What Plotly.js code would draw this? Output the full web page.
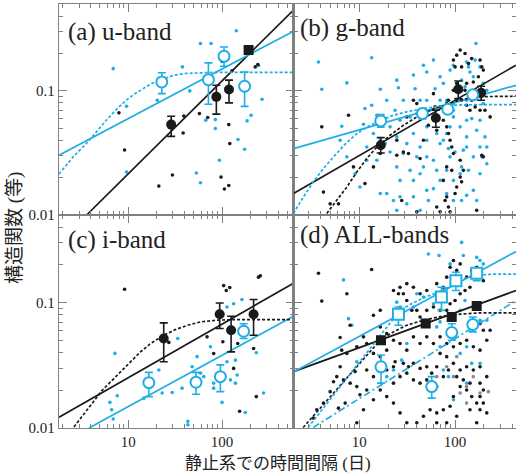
<!DOCTYPE html>
<html><head><meta charset="utf-8">
<script src="https://cdn.plot.ly/plotly-3.0.1.min.js"></script>
<style>html,body{margin:0;padding:0;background:#fff}#g{width:516px;height:476px}</style>
</head><body><div id="g"></div>
<script>
// ---------- axis / labels ----------
const xTickVals = [10, 100];
const xTickText = ['10', '100'];
const yTickVals = [0.01, 0.1];
const yTickText = ['0.01', '0.1'];
const xMinorVals = [2,3,4,5,6,7,8,9,20,30,40,50,60,70,80,90,200,300,400,500];
const yMinorVals = [0.02,0.03,0.04,0.05,0.06,0.07,0.08,0.09,0.2,0.3,0.4,0.5];
const panelLabels = ['(a) u-band', '(b) g-band', '(c) i-band', '(d) ALL-bands'];
const xTitle = '静止系での時間間隔 (日)';
const yTitle = '構造関数 (等)';

// ---------- panel (a) u-band ----------
const aDotBlkX = [7.96,9.14,21.2,29.6,39.1,38.5,57.4,70.4,97.6,106,118,118,121,100,128,166,226,241];
const aDotBlkY = [0.0665,0.0334,0.0171,0.021,0.0628,0.0458,0.0656,0.061,0.0202,0.0162,0.0173,0.0535,0.0376,0.173,0.145,0.1026,0.156,0.163];
const aDotCyX = [6.92,9.6,9.6,20.4,37.8,45.3,58.9,76.4,53.3,58.9,67,84.9,84.9,93.7,142,148,174,185,204,245,267];
const aDotCyY = [0.151,0.0752,0.0222,0.0841,0.156,0.1,0.241,0.241,0.0218,0.0182,0.058,0.0587,0.0497,0.0276,0.305,0.0406,0.0339,0.0573,0.0637,0.16,0.0857];
const aBlkCircX = [28.7, 87, 118.6];
const aBlkCircY = [0.0535, 0.0895, 0.1026];
const aBlkCircHi = [0.0625, 0.111, 0.122];
const aBlkCircLo = [0.043, 0.065, 0.080];
const aBlkSqX = [192];
const aBlkSqY = [0.213];
const aBlkSqHi = [0.226];
const aBlkSqLo = [0.200];
const aCyCircX = [22.8, 71.6, 105, 174];
const aCyCircY = [0.118, 0.123, 0.19, 0.109];
const aCyCircHi = [0.14, 0.168, 0.226, 0.142];
const aCyCircLo = [0.095, 0.078, 0.158, 0.075];
const aFitBlkX = [3.6, 578];
const aFitBlkY = [0.01, 0.448];
const aFitCyX = [1.83, 578];
const aFitCyY = [0.0303, 0.303];
const aCurveCyX = [1.83, 2.6, 3.72, 4.7, 5.84, 7.5, 9.52, 11.8, 14.3, 17.5, 21.5, 26, 31.1, 40, 55, 80, 130, 578];
const aCurveCyY = [0.0214, 0.0295, 0.0389, 0.048, 0.058, 0.071, 0.0841, 0.095, 0.1045, 0.114, 0.122, 0.129, 0.134, 0.138, 0.140, 0.141, 0.141, 0.141];

// ---------- panel (b) g-band ----------
const bDotCyX = [3.77,4.08,7.45,13.5,6.59,6.34,16.6,24.7,25.7,19.4,
 23.7,28.9,36.8,38.3,46.8,50.7,59.5,61.9,69.8,75.5,
 88.7,96.1,117,132,138,143,162,165,182,197,
 214,155,127,54.9,69.8,81.8,96.1,108,132,175,
 197,96.1,113,149,182,205,214,190,214,132,
 155,138,117,113,96.1,100,75.5,64.4,50.7,36.8,
 31.4,28.9,39.9,50.7,59.5,69.8,85.3,43.2,36.8,24.7,
 26.7,21.0,16.6,14.1,12.0,9.08,7.45,19.4,22.8,16.6,
 31.4,36.8,50.7,59.5,69.8,81.8,96.1,117,132,155,
 24.7,43.2,52.7,26.7,34.0,39.9,21.0,13.5,11.5,15.3,
 11.1,43.2,50.7,59.5,88.7,81.8,132,50.7,43.2,34.0,
 46.8,64.4,81.8,122,182,182,168,88.7,168,132,
 96.1,24.7,18.7,15.3,12.0,10.2,26.7];
const bDotCyY = [0.171,0.103,0.116,0.185,0.0519,0.040,0.103,0.122,0.106,0.0841,
 0.0699,0.0841,0.134,0.104,0.161,0.142,0.177,0.104,0.130,0.115,
 0.147,0.161,0.122,0.171,0.156,0.142,0.177,0.241,0.156,0.115,
 0.101,0.130,0.108,0.0699,0.0841,0.0841,0.079,0.0841,0.0841,0.0895,
 0.079,0.0617,0.0513,0.0598,0.058,0.0426,0.0353,0.0294,0.0259,0.0353,
 0.0294,0.0229,0.0244,0.0215,0.019,0.0322,0.040,0.0453,0.0513,0.0453,
 0.0376,0.0313,0.0294,0.0294,0.0276,0.0376,0.0343,0.0215,0.019,0.0244,
 0.019,0.0322,0.040,0.0453,0.0353,0.0215,0.0294,0.0149,0.0131,0.0149,
 0.0123,0.014,0.0158,0.0163,0.019,0.0149,0.0131,0.0131,0.0144,0.0158,
 0.0109,0.0109,0.0131,0.058,0.0617,0.0656,0.0513,0.0766,0.0721,0.0637,
 0.0538,0.0841,0.0841,0.0598,0.0513,0.0453,0.0426,0.040,0.0353,0.0229,
 0.0244,0.0229,0.0229,0.0333,0.0353,0.0215,0.0131,0.0294,0.0482,0.058,
 0.0699,0.0426,0.0376,0.0276,0.0276,0.0168,0.014];
const bDotBlkX = [4.08,7.75,4.25,6.09,16.6,24.7,28.9,36.8,39.9,32.7,
 43.2,46.8,52.7,61.9,69.8,81.8,85.3,75.5,81.8,85.3,
 88.7,92.3,96.1,96.1,104,113,100,117,127,138,
 149,182,190,197,175,155,132,127,132,143,
 162,182,205,232,190,197,113,122,113,117,
 104,81.8,78.7,64.4,69.8,85.3,88.7,39.9,27.8,11.5,
 14.1,8.73,4.99,168,59.5,31.4,24.7,96.1,104,117,
 149,168,64.4,75.5,81.8,92.3,100];
const bDotBlkY = [0.0513,0.0637,0.0153,0.0123,0.0313,0.0303,0.0322,0.0841,0.079,0.0313,
 0.0285,0.040,0.0528,0.0743,0.0743,0.079,0.0841,0.058,0.0513,0.0453,
 0.040,0.0353,0.0313,0.177,0.194,0.213,0.156,0.156,0.200,0.166,
 0.182,0.177,0.156,0.147,0.130,0.118,0.115,0.101,0.0766,0.0699,
 0.0743,0.0699,0.0699,0.0617,0.0303,0.0294,0.0276,0.0229,0.0202,0.0185,
 0.0168,0.014,0.0131,0.0116,0.0106,0.0116,0.0106,0.0106,0.0131,0.0179,
 0.0244,0.0244,0.0123,0.0109,0.095,0.0617,0.040,0.101,0.115,0.0841,
 0.0841,0.0895,0.0482,0.019,0.0244,0.0229,0.0149];
const bBlkCircX = [16.8, 63, 108, 187];
const bBlkCircY = [0.0365, 0.0605, 0.103, 0.0964];
const bBlkCircHi = [0.042, 0.070, 0.120, 0.109];
const bBlkCircLo = [0.0316, 0.051, 0.0867, 0.084];
const bCyCircX = [16.8, 45.7, 84, 153];
const bCyCircY = [0.0573, 0.0656, 0.0711, 0.0929];
const bCyCircHi = [0.0645, 0.0721, 0.0766, 0.100];
const bCyCircLo = [0.051, 0.0598, 0.0656, 0.0857];
const bFitBlkX = [2.07, 431];
const bFitBlkY = [0.0149, 0.161];
const bFitCyX = [2.07, 431];
const bFitCyY = [0.0343, 0.111];
const bCurveBlkX = [4.6, 5.85, 7.45, 9.46, 12.0, 15.3, 21.0, 28.9, 39.9, 54.9, 75.5, 104, 143, 214, 431];
const bCurveBlkY = [0.0103, 0.0131, 0.0168, 0.0222, 0.0285, 0.0353, 0.0439, 0.0528, 0.0617, 0.0699, 0.0766, 0.083, 0.0879, 0.090, 0.0906];
const bCurveCyX = [2.07, 2.63, 3.34, 4.25, 5.41, 7.15, 9.46, 12.5, 16.6, 22.8, 31.4, 46.8, 69.8, 113, 214, 431];
const bCurveCyY = [0.0103, 0.014, 0.0185, 0.0237, 0.0294, 0.0372, 0.0453, 0.0519, 0.0573, 0.0637, 0.0678, 0.0721, 0.0752, 0.0771, 0.0776, 0.0776];

// ---------- panel (c) i-band ----------
const cDotBlkX = [9.14,104,111,121,245,256,69.2,81.5,133,217,232,154,27.1,102,147];
const cDotBlkY = [0.128,0.137,0.125,0.132,0.160,0.164,0.0534,0.0393,0.0299,0.0431,0.0178,0.0136,0.0482,0.0488,0.0473];
const cDotCyX = [7.21,6.38,6.65,6.92,7.64,14.7,21.2,23.0,29.4,33.7,37.5,48.0,54.2,43.2,43.2,58.9,63.9,75.2,81.5,81.5,100,113,133,139,145,139,123,163,177,232,277,113];
const cDotCyY = [0.0394,0.016,0.014,0.0118,0.0181,0.0173,0.029,0.019,0.0192,0.0518,0.0208,0.0308,0.0371,0.0113,0.0106,0.0274,0.0257,0.0445,0.0228,0.0208,0.016,0.0924,0.0982,0.0348,0.0265,0.0228,0.0242,0.106,0.0133,0.0399,0.019,0.0338];
const cBlkCircX = [23.9, 94.4, 125, 217];
const cBlkCircY = [0.0518, 0.0808, 0.0602, 0.0808];
const cBlkCircHi = [0.069, 0.0994, 0.078, 0.106];
const cBlkCircLo = [0.0338, 0.0622, 0.0405, 0.055];
const cCyCircX = [16.6, 52.8, 96, 170];
const cCyCircY = [0.023, 0.0232, 0.0257, 0.0592];
const cCyCircHi = [0.0278, 0.0278, 0.0319, 0.068];
const cCyCircLo = [0.0178, 0.0186, 0.0195, 0.0518];
const cFitBlkX = [1.83, 578];
const cFitBlkY = [0.0122, 0.143];
const cFitCyX = [3.82, 578];
const cFitCyY = [0.01, 0.078];
const cCurveBlkX = [2.64, 3.7, 5.28, 7.03, 9.75, 13.5, 17.3, 23.9, 31.8, 42.5, 58.7, 90, 150, 578];
const cCurveBlkY = [0.0102, 0.0142, 0.02, 0.0248, 0.0317, 0.0405, 0.0472, 0.055, 0.061, 0.0659, 0.0702, 0.0726, 0.0733, 0.0733];

// ---------- panel (d) ALL-bands ----------
const dDotBlkX = [3.77,13.5,4.08,7.45,8.06,6.34,6.59,5.41,4.99,4.25,
 3.62,3.34,6.09,7.15,9.08,9.46,10.2,12.0,14.1,16.6,
 19.4,22.8,23.7,28.9,32.7,36.8,43.2,50.7,57.1,64.4,
 69.8,81.8,96.1,113,132,155,182,182,197,214,
 182,143,122,113,96.1,88.7,75.5,64.4,54.9,46.8,
 39.9,31.4,26.7,22.8,19.4,16.6,14.1,11.1,9.46,14.1,
 16.6,22.8,25.7,28.9,31.4,35.4,39.9,43.2,50.7,59.5,
 69.8,81.8,88.7,100,113,127,143,132,149,168,
 182,197,113,104,96.1,88.7,81.8,75.5,64.4,50.7,
 43.2,36.8,31.4,26.7,16.6,19.4,22.8,26.7,31.4,36.8,
 43.2,50.7,59.5,69.8,81.8,96.1,113,132,155,182,
 214,197,182,232,19.4,16.6,14.1,12.0,11.1,9.46,
 7.45,6.34,5.85,6.87,8.06,12.0,22.8,26.7,31.4,36.8,
 43.2,50.7,64.4,75.5,85.3,104,132,149,168,182,
 197,214,104,81.8,64.4,143,168];
const dDotBlkY = [0.172,0.184,0.103,0.118,0.0661,0.0528,0.0418,0.0234,0.0195,0.0158,
 0.014,0.012,0.0144,0.0158,0.0282,0.0214,0.0184,0.029,0.0257,0.0328,
 0.029,0.0308,0.0338,0.0328,0.0308,0.0328,0.0299,0.0308,0.0274,0.0308,
 0.0394,0.0371,0.0328,0.029,0.0308,0.029,0.0308,0.0228,0.0201,0.0257,
 0.0178,0.0228,0.0242,0.0214,0.0178,0.0149,0.014,0.0132,0.014,0.0124,
 0.011,0.011,0.0132,0.0158,0.0178,0.0201,0.0168,0.014,0.011,0.0793,
 0.0869,0.125,0.118,0.118,0.104,0.0869,0.0869,0.0769,0.0869,0.0924,
 0.0869,0.0869,0.0982,0.104,0.118,0.125,0.133,0.160,0.181,0.192,
 0.160,0.150,0.204,0.181,0.217,0.192,0.160,0.133,0.142,0.125,
 0.118,0.133,0.142,0.133,0.0641,0.0567,0.0502,0.0473,0.0418,0.0534,
 0.0473,0.0534,0.0473,0.0534,0.0473,0.0445,0.0473,0.0502,0.0445,0.0418,
 0.0502,0.0603,0.0681,0.0603,0.0418,0.0371,0.0394,0.0473,0.0534,0.0445,
 0.0394,0.0308,0.0257,0.0242,0.0228,0.0201,0.0228,0.0257,0.0274,0.0242,
 0.0228,0.0242,0.0214,0.0257,0.029,0.0257,0.0201,0.0178,0.0158,0.014,
 0.0158,0.0132,0.0124,0.011,0.011,0.014,0.011];
const dDotGrayX = [113,96.1,132,182,155,222,64.4,81.8,104,132];
const dDotGrayY = [0.019,0.0257,0.0214,0.019,0.0257,0.0195,0.0257,0.0308,0.0371,0.0158];
const dDotCyX = [6.87,7.75,8.39,9.46,24.7,26.7,52.7,68.1,117,122,
 96.1,88.7,182,168,81.8,59.5,39.9,31.4,27.8,22.8,
 19.4,69.8,113,132,149,75.5,85.3,96.1,113,127,
 69.8,64.4,36.8,46.8,182,214,132,182,197];
const dDotCyY = [0.152,0.0746,0.0661,0.0338,0.101,0.0924,0.245,0.238,0.303,0.238,
 0.217,0.204,0.217,0.230,0.129,0.0982,0.118,0.0473,0.0348,0.029,
 0.0257,0.0445,0.0394,0.0445,0.0328,0.029,0.0257,0.0168,0.0869,0.104,
 0.0703,0.0641,0.0924,0.111,0.0724,0.0724,0.0228,0.0328,0.204];
const dBlkSqX = [16.9, 49.4, 92.3, 168];
const dBlkSqY = [0.0502, 0.0681, 0.0769, 0.094];
const dBlkSqHi = [0.053, 0.071, 0.081, 0.099];
const dBlkSqLo = [0.047, 0.065, 0.073, 0.089];
const dCySqX = [25.7, 72.1, 102, 168];
const dCySqY = [0.0808, 0.111, 0.150, 0.172];
const dCySqHi = [0.0924, 0.133, 0.175, 0.186];
const dCySqLo = [0.066, 0.0869, 0.125, 0.150];
const dCyCircX = [16.9, 57.1, 92.3, 153];
const dCyCircY = [0.0308, 0.0214, 0.0578, 0.0669];
const dCyCircHi = [0.0382, 0.0257, 0.068, 0.0769];
const dCyCircLo = [0.0228, 0.0173, 0.0502, 0.0585];
const dFitBlkX = [2.07, 431];
const dFitBlkY = [0.0282, 0.125];
const dFitCyX = [2.07, 431];
const dFitCyY = [0.028, 0.256];
const dFitCyDotX = [3.32, 431];
const dFitCyDotY = [0.0101, 0.104];
const dCurveBlkX = [2.61, 4.99, 9.46, 16.6, 22.8, 31.4, 46.5, 69.8, 113, 182, 431];
const dCurveBlkY = [0.0101, 0.0177, 0.0308, 0.0502, 0.0585, 0.0661, 0.0724, 0.0775, 0.081, 0.083, 0.083];
const dCurveCyX = [2.94, 5.85, 12.0, 26.7, 36.8, 50.7, 72.1, 102, 132, 168, 251, 431];
const dCurveCyY = [0.0101, 0.0197, 0.0399, 0.0869, 0.1, 0.112, 0.124, 0.143, 0.158, 0.166, 0.169, 0.169];

// ---------- styles ----------
const CY = '#1eaee6';
const BK = '#1a1a1a';
const AX = '#808080';
const FONT = 'Liberation Serif, Times New Roman, serif';
const JFONT = 'Liberation Serif, Noto Sans CJK JP, serif';

const traces = [];
function dots(x, y, color, xa, ya) {
  traces.push({x, y, xaxis: xa, yaxis: ya, type: 'scatter', mode: 'markers',
    marker: {size: 3.6, color: color}, hoverinfo: 'skip'});
}
function line(x, y, color, dash, xa, ya) {
  traces.push({x, y, xaxis: xa, yaxis: ya, type: 'scatter', mode: 'lines',
    line: {color: color, width: 1.7, dash: dash}, hoverinfo: 'skip'});
}
function marks(x, y, hi, lo, color, symbol, open, xa, ya) {
  traces.push({x, y, xaxis: xa, yaxis: ya, type: 'scatter', mode: 'markers',
    error_y: {type: 'data', symmetric: false,
      array: hi.map((h, i) => h - y[i]), arrayminus: lo.map((l, i) => y[i] - l),
      color: color, thickness: 1.6, width: 4},
    marker: {symbol: symbol, size: open ? 11 : 10, color: open ? '#ffffff' : color,
      line: {color: color, width: open ? 2 : 0}},
    hoverinfo: 'skip'});
}

// (a)
dots(aDotCyX, aDotCyY, CY, 'x', 'y');
dots(aDotBlkX, aDotBlkY, BK, 'x', 'y');
line(aFitBlkX, aFitBlkY, BK, 'solid', 'x', 'y');
line(aFitCyX, aFitCyY, CY, 'solid', 'x', 'y');
line(aCurveCyX, aCurveCyY, CY, '3px,2px', 'x', 'y');
marks(aBlkCircX, aBlkCircY, aBlkCircHi, aBlkCircLo, BK, 'circle', false, 'x', 'y');
marks(aBlkSqX, aBlkSqY, aBlkSqHi, aBlkSqLo, BK, 'square', false, 'x', 'y');
marks(aCyCircX, aCyCircY, aCyCircHi, aCyCircLo, CY, 'circle', true, 'x', 'y');
// (b)
dots(bDotCyX, bDotCyY, CY, 'x2', 'y2');
dots(bDotBlkX, bDotBlkY, BK, 'x2', 'y2');
line(bFitBlkX, bFitBlkY, BK, 'solid', 'x2', 'y2');
line(bFitCyX, bFitCyY, CY, 'solid', 'x2', 'y2');
line(bCurveBlkX, bCurveBlkY, BK, '3px,2px', 'x2', 'y2');
line(bCurveCyX, bCurveCyY, CY, '3px,2px', 'x2', 'y2');
marks(bBlkCircX, bBlkCircY, bBlkCircHi, bBlkCircLo, BK, 'circle', false, 'x2', 'y2');
marks(bCyCircX, bCyCircY, bCyCircHi, bCyCircLo, CY, 'circle', true, 'x2', 'y2');
// (c)
dots(cDotCyX, cDotCyY, CY, 'x3', 'y3');
dots(cDotBlkX, cDotBlkY, BK, 'x3', 'y3');
line(cFitBlkX, cFitBlkY, BK, 'solid', 'x3', 'y3');
line(cFitCyX, cFitCyY, CY, 'solid', 'x3', 'y3');
line(cCurveBlkX, cCurveBlkY, BK, '3px,2px', 'x3', 'y3');
marks(cBlkCircX, cBlkCircY, cBlkCircHi, cBlkCircLo, BK, 'circle', false, 'x3', 'y3');
marks(cCyCircX, cCyCircY, cCyCircHi, cCyCircLo, CY, 'circle', true, 'x3', 'y3');
// (d)
dots(dDotCyX, dDotCyY, CY, 'x4', 'y4');
dots(dDotBlkX, dDotBlkY, BK, 'x4', 'y4');
dots(dDotGrayX, dDotGrayY, '#8a8a8a', 'x4', 'y4');
line(dFitBlkX, dFitBlkY, BK, 'solid', 'x4', 'y4');
line(dFitCyX, dFitCyY, CY, 'solid', 'x4', 'y4');
line(dFitCyDotX, dFitCyDotY, CY, '7px,3px,2px,3px', 'x4', 'y4');
line(dCurveBlkX, dCurveBlkY, BK, '3px,2px', 'x4', 'y4');
line(dCurveCyX, dCurveCyY, CY, '3px,2px', 'x4', 'y4');
marks(dBlkSqX, dBlkSqY, dBlkSqHi, dBlkSqLo, BK, 'square', false, 'x4', 'y4');
marks(dCySqX, dCySqY, dCySqHi, dCySqLo, CY, 'square', true, 'x4', 'y4');
marks(dCyCircX, dCyCircY, dCyCircHi, dCyCircLo, CY, 'circle', true, 'x4', 'y4');

function xaxis(domain, range, labels, anchor) {
  return {type: 'log', domain, range, anchor, showline: true, linecolor: AX, linewidth: 1.2,
    mirror: 'ticks', ticks: 'inside', ticklen: 8, tickcolor: AX, tickwidth: 1,
    tickmode: 'array', tickvals: xTickVals, ticktext: xTickText, showticklabels: labels,
    tickfont: {family: FONT, size: 15, color: '#222'}, showgrid: false, zeroline: false,
    minor: {tickmode: 'array', tickvals: xMinorVals, ticks: 'inside', ticklen: 4, tickcolor: AX, tickwidth: 1, showgrid: false}};
}
function yaxis(domain, labels, anchor) {
  return {type: 'log', domain, range: [-2, -0.3], anchor, showline: true, linecolor: AX, linewidth: 1.2,
    mirror: 'ticks', ticks: 'inside', ticklen: 8, tickcolor: AX, tickwidth: 1,
    tickmode: 'array', tickvals: yTickVals, ticktext: yTickText, showticklabels: labels,
    tickfont: {family: FONT, size: 15, color: '#222'}, showgrid: false, zeroline: false,
    minor: {tickmode: 'array', tickvals: yMinorVals, ticks: 'inside', ticklen: 4, tickcolor: AX, tickwidth: 1, showgrid: false}};
}
const colSplit = 234.5 / 457;
const rowSplit = 213 / 424;
const xL = [0.262, 2.762], xR = [0.316, 2.635];

function plabel(text, xa, ya, x, y) {
  return {text, xref: xa + ' domain', yref: ya + ' domain', x, y, xanchor: 'left', yanchor: 'middle',
    showarrow: false, font: {family: FONT, size: 25, color: '#222'}};
}

const layout = {
  width: 516, height: 476, margin: {l: 59, r: 0, t: 4, b: 48},
  paper_bgcolor: '#fff', plot_bgcolor: '#fff', showlegend: false,
  xaxis: xaxis([0, colSplit], xL, false, 'y'),
  yaxis: yaxis([rowSplit, 1], true, 'x'),
  xaxis2: xaxis([colSplit, 1], xR, false, 'y2'),
  yaxis2: yaxis([rowSplit, 1], false, 'x2'),
  xaxis3: xaxis([0, colSplit], xL, true, 'y3'),
  yaxis3: yaxis([0, rowSplit], true, 'x3'),
  xaxis4: xaxis([colSplit, 1], xR, true, 'y4'),
  yaxis4: yaxis([0, rowSplit], false, 'x4'),
  annotations: [
    plabel(panelLabels[0], 'x', 'y', 0.03, 0.867),
    plabel(panelLabels[1], 'x2', 'y2', 0.02, 0.885),
    plabel(panelLabels[2], 'x3', 'y3', 0.03, 0.883),
    plabel(panelLabels[3], 'x4', 'y4', 0.02, 0.905),
    {text: xTitle, xref: 'paper', yref: 'paper', x: (278 - 59) / 457, y: (428 - 463) / 424,
      xanchor: 'center', yanchor: 'middle', showarrow: false,
      font: {family: JFONT, size: 17, color: '#222'}},
    {text: yTitle, xref: 'paper', yref: 'paper', x: (15 - 59) / 457, y: (428 - 228) / 424,
      xanchor: 'center', yanchor: 'middle', showarrow: false, textangle: -90,
      font: {family: JFONT, size: 19, color: '#222'}}
  ]
};
Plotly.newPlot('g', traces, layout, {staticPlot: true, displayModeBar: false});
</script></body></html>
